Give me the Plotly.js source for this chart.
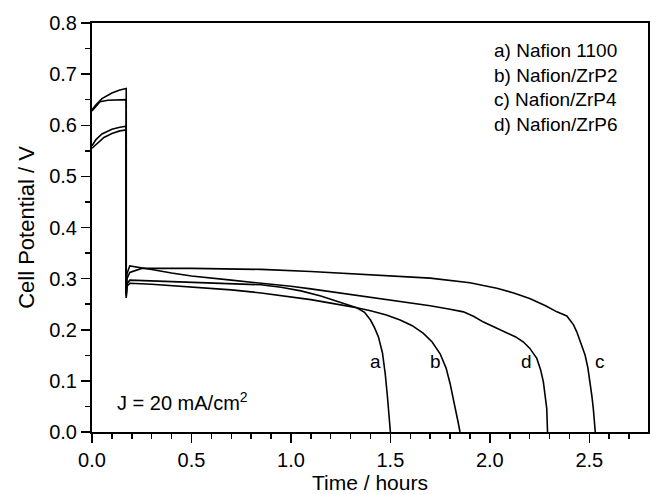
<!DOCTYPE html>
<html>
<head>
<meta charset="utf-8">
<script src="https://cdn.plot.ly/plotly-3.0.1.min.js"></script>
<style>html,body{margin:0;padding:0;background:#fff;}#chart{width:651px;height:494px;}</style>
</head>
<body>
<div id="chart"></div>
<script>
// Curve a) Nafion 1100
const tA = [0, 0.03, 0.06, 0.10, 0.14, 0.172, 0.172, 0.176, 0.19, 0.30, 0.50, 0.70, 0.85, 1.00, 1.10, 1.20, 1.28, 1.331, 1.37, 1.40, 1.42, 1.44, 1.46, 1.474, 1.485, 1.493, 1.50];
const vA = [0.555, 0.566, 0.576, 0.584, 0.589, 0.591, 0.262, 0.285, 0.291, 0.289, 0.284, 0.278, 0.272, 0.265, 0.259, 0.252, 0.247, 0.243, 0.234, 0.219, 0.204, 0.186, 0.155, 0.114, 0.070, 0.035, 0.0];
// Curve b) Nafion/ZrP2
const tB = [0, 0.02, 0.05, 0.10, 0.14, 0.172, 0.172, 0.176, 0.19, 0.50, 0.70, 0.85, 0.95, 1.05, 1.15, 1.25, 1.331, 1.40, 1.48, 1.549, 1.61, 1.666, 1.71, 1.75, 1.78, 1.80, 1.82, 1.84, 1.85];
const vB = [0.560, 0.572, 0.583, 0.592, 0.596, 0.598, 0.265, 0.290, 0.297, 0.293, 0.291, 0.288, 0.283, 0.276, 0.266, 0.253, 0.243, 0.237, 0.229, 0.219, 0.208, 0.193, 0.176, 0.153, 0.125, 0.095, 0.060, 0.020, 0.0];
// Curve c) Nafion/ZrP4
const tC = [0, 0.02, 0.04, 0.08, 0.172, 0.172, 0.176, 0.19, 0.25, 0.50, 0.85, 1.10, 1.40, 1.70, 1.90, 2.035, 2.12, 2.20, 2.28, 2.337, 2.387, 2.42, 2.437, 2.455, 2.479, 2.493, 2.504, 2.513, 2.52, 2.527, 2.53];
const vC = [0.628, 0.638, 0.646, 0.649, 0.650, 0.270, 0.300, 0.312, 0.320, 0.320, 0.318, 0.314, 0.308, 0.301, 0.292, 0.281, 0.272, 0.261, 0.247, 0.235, 0.227, 0.210, 0.196, 0.175, 0.150, 0.125, 0.098, 0.070, 0.046, 0.020, 0.0];
// Curve d) Nafion/ZrP6
const tD = [0, 0.02, 0.05, 0.10, 0.14, 0.172, 0.172, 0.176, 0.19, 0.25, 0.30, 0.40, 0.50, 0.70, 0.87, 1.00, 1.10, 1.25, 1.35, 1.50, 1.60, 1.70, 1.80, 1.867, 1.92, 1.968, 2.03, 2.085, 2.13, 2.169, 2.20, 2.236, 2.255, 2.269, 2.28, 2.286, 2.29];
const vD = [0.630, 0.640, 0.652, 0.663, 0.669, 0.672, 0.268, 0.310, 0.325, 0.322, 0.318, 0.311, 0.305, 0.297, 0.291, 0.285, 0.280, 0.272, 0.266, 0.258, 0.253, 0.247, 0.240, 0.235, 0.226, 0.215, 0.204, 0.194, 0.186, 0.176, 0.164, 0.144, 0.122, 0.098, 0.070, 0.046, 0.0];

const curveLetters = ["a", "b", "d", "c"];
const letterT = [1.424, 1.725, 2.183, 2.554];
const letterV = [0.137, 0.137, 0.137, 0.137];

const legendLines = ["a) Nafion 1100", "b) Nafion/ZrP2", "c) Nafion/ZrP4", "d) Nafion/ZrP6"];
const legendV = [0.747, 0.698, 0.650, 0.601];
const legendT = 2.01;

const yTicks = [0, 0.1, 0.2, 0.3, 0.4, 0.5, 0.6, 0.7, 0.8];
const xTicks = [0, 0.5, 1.0, 1.5, 2.0, 2.5];

const FONT = "Liberation Sans, Arial, sans-serif";
const line = {color: "#000", width: 1.6};
const traces = [
  {x: tA, y: vA, mode: "lines", line: line, name: "a"},
  {x: tB, y: vB, mode: "lines", line: line, name: "b"},
  {x: tC, y: vC, mode: "lines", line: line, name: "c"},
  {x: tD, y: vD, mode: "lines", line: line, name: "d"}
];

const annotations = [];
curveLetters.forEach((s, i) => annotations.push({
  x: letterT[i], y: letterV[i], xref: "x", yref: "y", text: s, showarrow: false,
  font: {family: FONT, size: 19, color: "#000"}, xanchor: "center", yanchor: "middle"
}));
legendLines.forEach((s, i) => annotations.push({
  x: legendT, y: legendV[i], xref: "x", yref: "y", text: s, showarrow: false,
  font: {family: FONT, size: 19, color: "#000"}, xanchor: "left", yanchor: "middle"
}));
annotations.push({
  x: 0.117, y: 0.059, xref: "x", yref: "y", text: "J = 20 mA/cm<sup>2</sup>", showarrow: false,
  font: {family: FONT, size: 20, color: "#000"}, xanchor: "left", yanchor: "middle"
});

const layout = {
  width: 651, height: 494,
  margin: {l: 92, r: 3, t: 23, b: 62},
  paper_bgcolor: "#fff", plot_bgcolor: "#fff",
  showlegend: false,
  font: {family: FONT, color: "#000"},
  xaxis: {
    range: [0, 2.795], tickvals: xTicks, ticktext: xTicks.map(v => v.toFixed(1)),
    ticks: "outside", ticklen: 9, tickwidth: 1.5, tickcolor: "#000",
    showline: true, linewidth: 2, linecolor: "#000", mirror: true,
    showgrid: false, zeroline: false,
    tickfont: {family: FONT, size: 20},
    minor: {dtick: 0.1, tick0: 0, ticks: "outside", ticklen: 5, tickwidth: 1.5, tickcolor: "#000", showgrid: false},
    title: {text: "Time / hours", font: {family: FONT, size: 21}, standoff: 4}
  },
  yaxis: {
    range: [0, 0.8], tickvals: yTicks, ticktext: yTicks.map(v => v.toFixed(1)),
    ticks: "outside", ticklen: 9, tickwidth: 1.5, tickcolor: "#000",
    showline: true, linewidth: 2, linecolor: "#000", mirror: true,
    showgrid: false, zeroline: false,
    tickfont: {family: FONT, size: 20},
    minor: {dtick: 0.05, tick0: 0, ticks: "outside", ticklen: 5, tickwidth: 1.5, tickcolor: "#000", showgrid: false},
    title: {text: "Cell Potential / V", font: {family: FONT, size: 22}, standoff: 8}
  },
  annotations: annotations
};

Plotly.newPlot("chart", traces, layout, {displayModeBar: false, staticPlot: true});
</script>
</body>
</html>
